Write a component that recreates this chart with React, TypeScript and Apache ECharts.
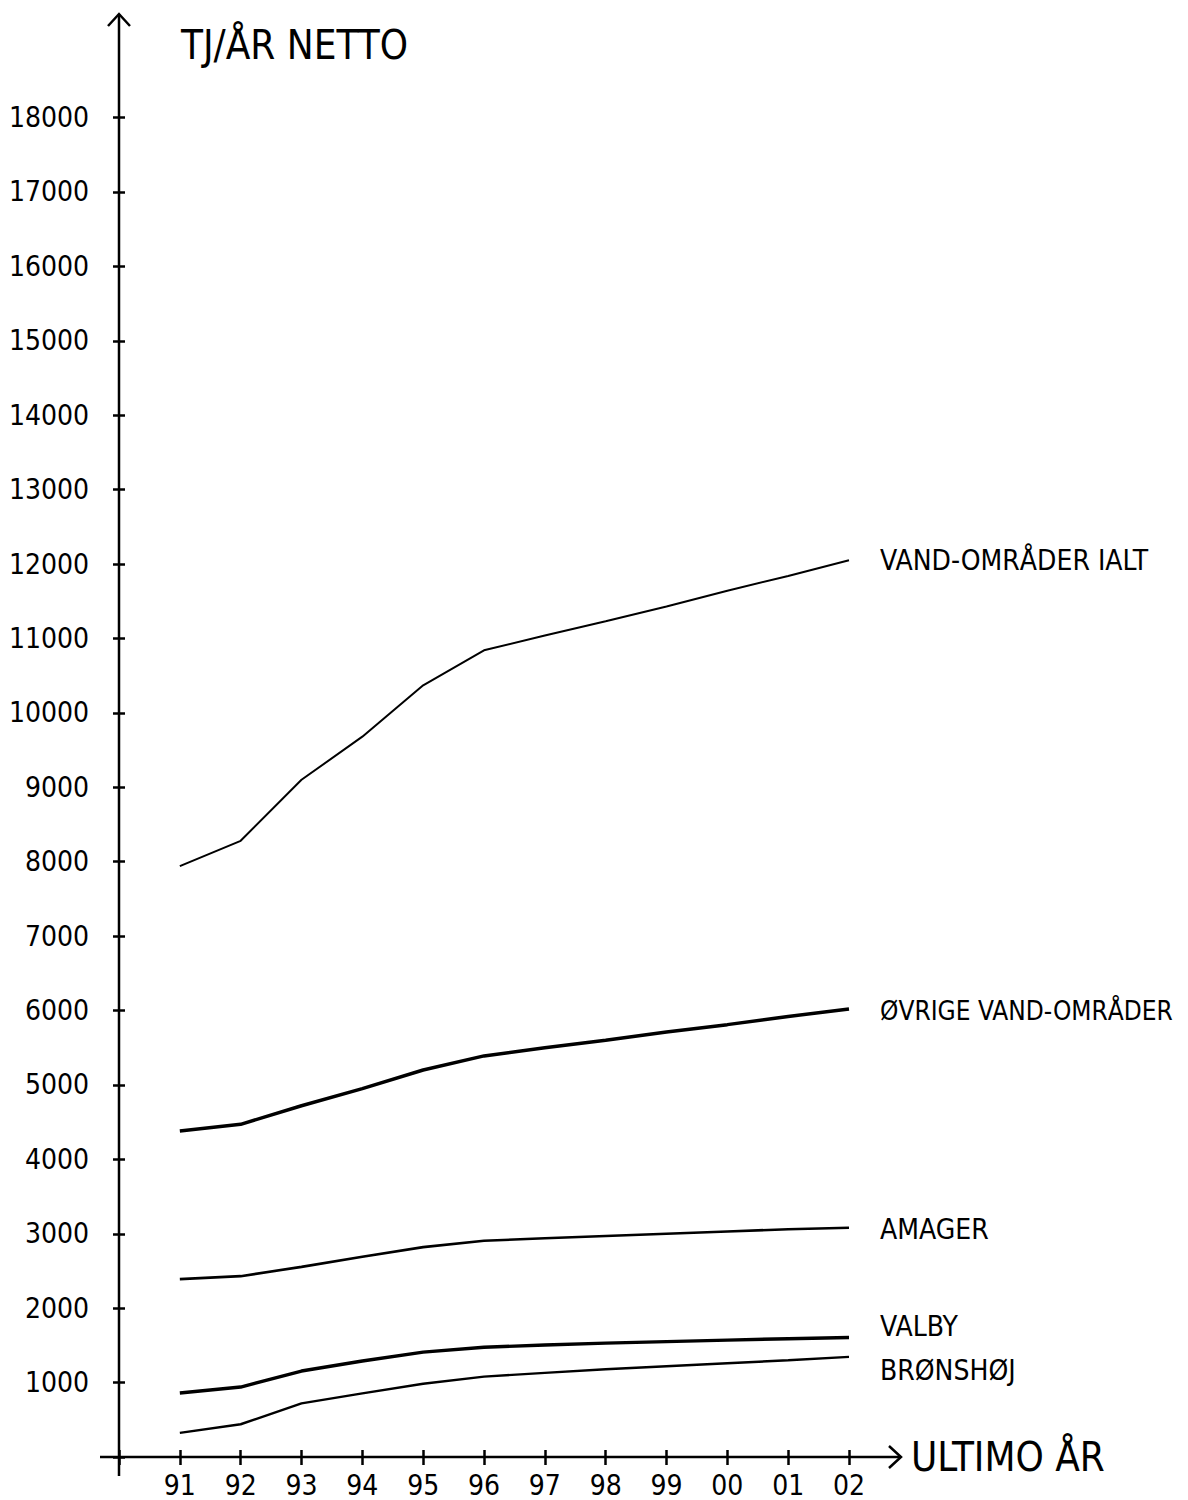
import React, { useEffect, useRef } from "react";
import * as echarts from "echarts";

// Categories (ultimo år)
const years = ["91", "92", "93", "94", "95", "96", "97", "98", "99", "00", "01", "02"];

// Series values, TJ/år netto
const vandOmraaderIalt = [7940, 8280, 9100, 9680, 10370, 10840, 11040, 11230, 11430, 11640, 11840, 12050];
const ovrigeVandOmraader = [4380, 4470, 4720, 4950, 5200, 5390, 5500, 5600, 5710, 5810, 5920, 6020];
const amager = [2390, 2430, 2555, 2690, 2820, 2905, 2940, 2970, 3000, 3030, 3060, 3080];
const valby = [860, 940, 1155, 1290, 1410, 1475, 1505, 1530, 1550, 1570, 1590, 1605];
const bronshoj = [325, 440, 720, 855, 985, 1080, 1130, 1180, 1220, 1260, 1300, 1345];

const seriesNames = ["VAND-OMRÅDER IALT", "ØVRIGE VAND-OMRÅDER", "AMAGER", "VALBY", "BRØNSHØJ"];
const seriesValues = [vandOmraaderIalt, ovrigeVandOmraader, amager, valby, bronshoj];
const seriesWidths = [2, 3.5, 2.6, 3.4, 2.4];
const labelOffsets = [0, 2, 2, -11, 14];
const labelSizes = [28, 26, 28, 28, 28];

const yMin = 0;
const yMax = 18000;
const yInterval = 1000;

const FONT = "'DejaVu Sans Condensed', 'Liberation Sans Narrow', sans-serif";

export default function App() {
  const ref = useRef<HTMLDivElement>(null);

  useEffect(() => {
    if (!ref.current) return;
    const chart = echarts.init(ref.current, undefined, { renderer: "svg" });

    const gridLeft = 119;
    const gridRight = 339;
    const gridTop = 117.5;
    const gridBottom = 43;
    const H = 1500;
    const axisY = H - gridBottom;

    const cats = ["", ...years];

    const option: any = {
      animation: false,
      backgroundColor: "#ffffff",
      textStyle: { fontFamily: FONT, color: "#000" },
      title: {
        text: "TJ/ÅR NETTO",
        left: 176,
        top: 20,
        textStyle: { fontFamily: FONT, fontSize: 40, fontWeight: "normal", color: "#000" },
      },
      grid: {
        left: gridLeft,
        right: gridRight,
        top: gridTop,
        bottom: gridBottom,
        containLabel: false,
        outerBoundsMode: "none",
      },
      xAxis: [
        {
          type: "category",
          data: cats,
          boundaryGap: false,
          position: "bottom",
          name: "ULTIMO ÅR",
          nameLocation: "end",
          nameGap: 62,
          nameTextStyle: { fontFamily: FONT, fontSize: 40, color: "#000" },
          axisLine: { show: false },
          axisTick: { show: true, length: 8, lineStyle: { color: "#000", width: 2.5 } },
          axisLabel: { interval: 0, margin: 14, fontFamily: FONT, fontSize: 28, color: "#000" },
          splitLine: { show: false },
        },
        {
          type: "category",
          data: cats,
          boundaryGap: false,
          position: "bottom",
          axisLine: { show: false },
          axisTick: { show: true, inside: true, length: 7, lineStyle: { color: "#000", width: 2.5 } },
          axisLabel: { show: false },
          splitLine: { show: false },
        },
      ],
      yAxis: [
        {
          type: "value",
          min: yMin,
          max: yMax,
          interval: yInterval,
          position: "left",
          axisLine: { show: false },
          axisTick: { show: true, length: 6, lineStyle: { color: "#000", width: 2.5 } },
          axisLabel: {
            margin: 30,
            fontFamily: FONT,
            fontSize: 28,
            color: "#000",
            formatter: (v: number) => (v === 0 ? "" : String(v)),
          },
          splitLine: { show: false },
        },
        {
          type: "value",
          min: yMin,
          max: yMax,
          interval: yInterval,
          position: "left",
          axisLine: { show: false },
          axisTick: { show: true, inside: true, length: 6, lineStyle: { color: "#000", width: 2.5 } },
          axisLabel: { show: false },
          splitLine: { show: false },
        },
      ],
      series: seriesNames.map((name, i) => ({
        name,
        type: "line",
        xAxisIndex: 0,
        yAxisIndex: 0,
        data: [null, ...seriesValues[i]],
        showSymbol: false,
        symbol: "none",
        smooth: false,
        lineStyle: { color: "#000", width: seriesWidths[i] },
        endLabel: {
          show: true,
          formatter: () => name,
          distance: 31,
          offset: [0, labelOffsets[i]],
          fontFamily: FONT,
          fontSize: labelSizes[i],
          color: "#000",
        },
        z: 3,
      })),
      graphic: [
        {
          type: "line",
          shape: { x1: gridLeft, y1: 14, x2: gridLeft, y2: axisY + 19 },
          style: { stroke: "#000", lineWidth: 2.5 },
          z: 10,
        },
        {
          type: "polyline",
          shape: { points: [[gridLeft - 11, 26], [gridLeft, 14], [gridLeft + 11, 26]] },
          style: { stroke: "#000", lineWidth: 2.5, fill: null },
          z: 10,
        },
        {
          type: "line",
          shape: { x1: 100, y1: axisY, x2: 901, y2: axisY },
          style: { stroke: "#000", lineWidth: 2.5 },
          z: 10,
        },
        {
          type: "polyline",
          shape: { points: [[889, axisY - 11], [901, axisY], [889, axisY + 11]] },
          style: { stroke: "#000", lineWidth: 2.5, fill: null },
          z: 10,
        },
      ],
    };

    chart.setOption(option);
    return () => chart.dispose();
  }, []);

  return (
    <div
      ref={ref}
      style={{ position: "fixed", left: 0, top: 0, width: 1188, height: 1500, background: "#fff" }}
    />
  );
}
